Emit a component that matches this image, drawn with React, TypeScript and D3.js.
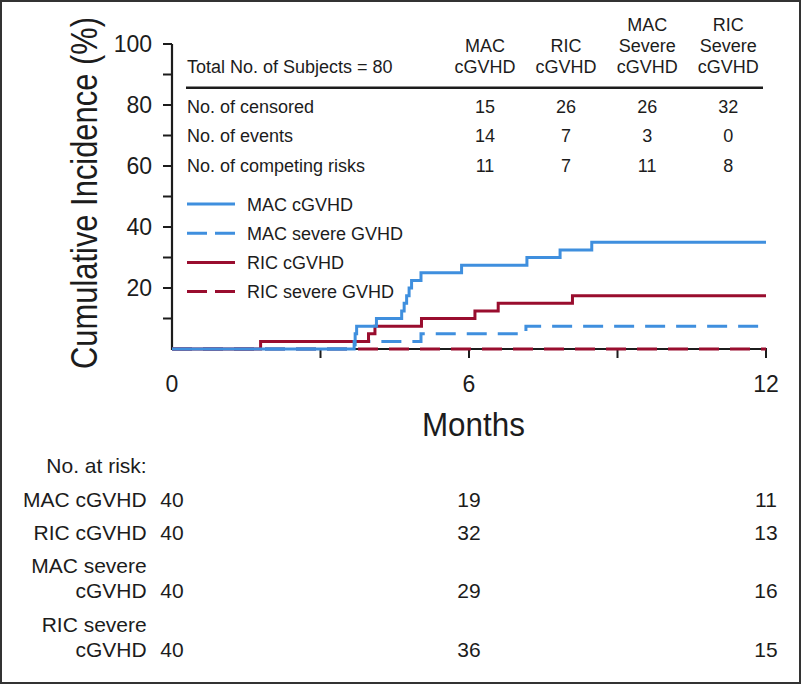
import React, { useLayoutEffect, useRef, useState } from 'react';
import * as d3 from 'd3';

// ---- Data ----
const macCgvhdTimes = [0, 3.68, 3.7, 3.73, 4.13, 4.64, 4.69, 4.74, 4.79, 4.84, 5.03, 5.85, 7.17, 7.84, 8.48, 12];
const macCgvhdValues = [0, 2.5, 5, 7.5, 10, 12.5, 15, 17.5, 20, 22.5, 25, 27.5, 30, 32.5, 35, 35];
const ricCgvhdTimes = [0, 1.79, 3.97, 4.1, 5.04, 6.12, 6.59, 8.09, 12];
const ricCgvhdValues = [0, 2.5, 5, 7.5, 10, 12.5, 15, 17.5, 17.5];
const macSevereTimes = [0, 3.7, 5.03, 7.15, 12];
const macSevereValues = [0, 2.5, 5, 7.5, 7.5];
const ricSevereTimes = [0, 12];
const ricSevereValues = [0, 0];

const yTicks = [10, 20, 30, 40, 50, 60, 70, 80, 90, 100];
const yLabels = [20, 40, 60, 80, 100];
const xTicks = [0, 3, 6, 9, 12];
const xLabels = [0, 6, 12];

const legendLabels = ['MAC cGVHD', 'MAC severe GVHD', 'RIC cGVHD', 'RIC severe GVHD'];

const tableColumns = [['MAC', 'cGVHD'], ['RIC', 'cGVHD'], ['MAC', 'Severe', 'cGVHD'], ['RIC', 'Severe', 'cGVHD']];
const tableRows = ['No. of censored', 'No. of events', 'No. of competing risks'];
const censoredCounts = [15, 26, 26, 32];
const eventCounts = [14, 7, 3, 0];
const competingCounts = [11, 7, 11, 8];

const riskTimes = [0, 6, 12];
const riskLabels = [['MAC cGVHD'], ['RIC cGVHD'], ['MAC severe', 'cGVHD'], ['RIC severe', 'cGVHD']];
const riskMac = [40, 19, 11];
const riskRic = [40, 32, 13];
const riskMacSevere = [40, 29, 16];
const riskRicSevere = [40, 36, 15];

const BLUE = '#3f8fde';
const RED = '#990d2e';
const INK = '#1c1c1c';
const FONT = "'Liberation Sans', Arial, Helvetica, sans-serif";
const TF = 18;

// Text horizontally scaled to a target width (condensed look)
function FitText(props: { x: number; y: number; rotate?: number; width: number; fontSize: number; children: string }) {
  const ref = useRef<SVGTextElement>(null);
  const [sx, setSx] = useState(1);
  useLayoutEffect(() => {
    if (ref.current) {
      const w = ref.current.getComputedTextLength();
      if (w > 0) setSx(props.width / w);
    }
  }, [props.width, props.children]);
  const tr = `translate(${props.x},${props.y})${props.rotate ? ` rotate(${props.rotate})` : ''} scale(${sx},1)`;
  return (
    <text ref={ref} transform={tr} textAnchor="middle" fontSize={props.fontSize} fill={INK}>{props.children}</text>
  );
}

export default function App() {
  const W = 801, H = 684;
  const x = d3.scaleLinear().domain([0, 12]).range([172, 766]);
  const y = d3.scaleLinear().domain([0, 100]).range([349, 44]);
  const line = d3.line<[number, number]>().x(d => x(d[0])).y(d => y(d[1])).curve(d3.curveStepAfter);
  const mk = (t: number[], v: number[]) => line(t.map((ti, i) => [ti, v[i]] as [number, number])) || '';

  const series = [
    { t: ricSevereTimes, v: ricSevereValues, color: RED, dash: '20 11' },
    { t: macSevereTimes, v: macSevereValues, color: BLUE, dash: '20 11' },
    { t: ricCgvhdTimes, v: ricCgvhdValues, color: RED, dash: undefined },
    { t: macCgvhdTimes, v: macCgvhdValues, color: BLUE, dash: undefined },
  ];
  const legendStyles = [
    { color: BLUE, dash: undefined },
    { color: BLUE, dash: '20 8' },
    { color: RED, dash: undefined },
    { color: RED, dash: '20 8' },
  ];

  const colX = d3.scalePoint<number>().domain([0, 1, 2, 3]).range([485, 728.3]);
  const rowBase = [113.3, 142.3, 171.7];
  const rowValues = [censoredCounts, eventCounts, competingCounts];
  const riskRows = [riskMac, riskRic, riskMacSevere, riskRicSevere];
  const riskBase = [506.7, 540, 598.3, 656.7];

  return (
    <svg width={W} height={H} style={{ position: 'absolute', left: 0, top: 0, background: '#fff' }} fontFamily={FONT}>
      <rect x={0} y={0} width={W} height={H} fill="#fff" />
      <rect x={1} y={1} width={W - 2} height={H - 2} fill="none" stroke="#333" strokeWidth={2} />

      {/* axes */}
      <line x1={x(0)} x2={x(0)} y1={y(0) + 1} y2={y(100)} stroke={INK} strokeWidth={2.2} />
      <line x1={x(0)} x2={x(12) + 1} y1={y(0)} y2={y(0)} stroke={INK} strokeWidth={2.2} />
      {yTicks.map(t => (
        <line key={'yt' + t} x1={x(0) - 9} x2={x(0)} y1={y(t)} y2={y(t)} stroke={INK} strokeWidth={2} />
      ))}
      {yLabels.map(t => (
        <text key={'yl' + t} x={152} y={y(t) + 8} textAnchor="end" fontSize={23} fill={INK}>{t}</text>
      ))}
      {xTicks.filter(t => t > 0).map(t => (
        <line key={'xt' + t} x1={x(t)} x2={x(t)} y1={y(0)} y2={y(0) + 9} stroke={INK} strokeWidth={2} />
      ))}
      {xLabels.map(t => (
        <text key={'xl' + t} x={x(t)} y={392} textAnchor="middle" fontSize={23} fill={INK}>{t}</text>
      ))}
      <FitText x={473.4} y={436} width={103} fontSize={34}>Months</FitText>
      <FitText x={97} y={193} rotate={-90} width={352} fontSize={37}>Cumulative Incidence (%)</FitText>

      {/* curves */}
      {series.map((s, i) => (
        <path key={'s' + i} d={mk(s.t, s.v)} fill="none" stroke={s.color} strokeWidth={3} strokeDasharray={s.dash} />
      ))}

      {/* summary table */}
      <text x={187} y={73.3} fontSize={TF} fill={INK}>Total No. of Subjects = 80</text>
      {tableColumns.map((col, i) => (
        <g key={'tc' + i}>
          {col.map((w, j) => (
            <text key={j} x={colX(i)} y={73.3 - (col.length - 1 - j) * 21} textAnchor="middle" fontSize={TF} fill={INK}>{w}</text>
          ))}
        </g>
      ))}
      <line x1={186} x2={763} y1={87.7} y2={87.7} stroke={INK} strokeWidth={2.5} />
      {tableRows.map((r, i) => (
        <g key={'tr' + i}>
          <text x={187} y={rowBase[i]} fontSize={TF} fill={INK}>{r}</text>
          {rowValues[i].map((v, j) => (
            <text key={j} x={colX(j)} y={rowBase[i]} textAnchor="middle" fontSize={TF} fill={INK}>{v}</text>
          ))}
        </g>
      ))}

      {/* legend */}
      {legendLabels.map((l, i) => {
        const cy = 204 + i * 29.2;
        return (
          <g key={'lg' + i}>
            <line x1={187} x2={235} y1={cy} y2={cy} stroke={legendStyles[i].color} strokeWidth={3} strokeDasharray={legendStyles[i].dash} />
            <text x={247} y={cy + 6.5} fontSize={TF} fill={INK}>{l}</text>
          </g>
        );
      })}

      {/* number at risk */}
      <text x={146.7} y={473.3} textAnchor="end" fontSize={21} fill={INK}>No. at risk:</text>
      {riskLabels.map((lab, i) => (
        <g key={'rk' + i}>
          {lab.map((w, j) => (
            <text key={j} x={146.7} y={riskBase[i] - (lab.length - 1 - j) * 25} textAnchor="end" fontSize={21} fill={INK}>{w}</text>
          ))}
          {riskRows[i].map((v, j) => (
            <text key={'v' + j} x={x(riskTimes[j])} y={riskBase[i]} textAnchor="middle" fontSize={21} fill={INK}>{v}</text>
          ))}
        </g>
      ))}
    </svg>
  );
}
